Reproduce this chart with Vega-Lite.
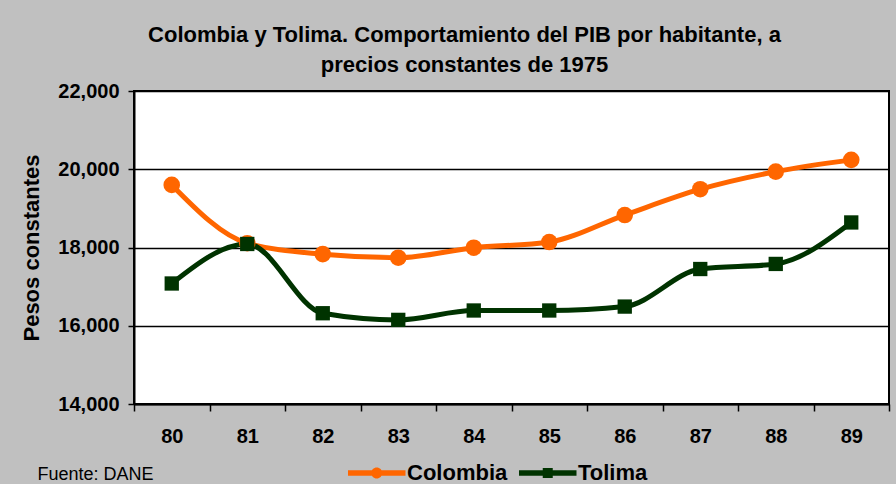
{
  "$schema": "https://vega.github.io/schema/vega-lite/v6.json",
  "width": 755,
  "height": 313,
  "autosize": "none",
  "padding": {"left": 134, "top": 91, "right": 7, "bottom": 80},
  "background": "#c0c0c0",
  "title": {
    "text": ["Colombia y Tolima. Comportamiento del PIB por habitante, a", "precios constantes de 1975"],
    "font": "Liberation Sans",
    "fontSize": 22,
    "fontWeight": "bold",
    "color": "black",
    "lineHeight": 30,
    "anchor": "middle",
    "dx": -47,
    "offset": 4
  },
  "data": {
    "values": [
      {"anio": 80, "serie": "Colombia", "pib": 19600},
      {"anio": 81, "serie": "Colombia", "pib": 18110},
      {"anio": 82, "serie": "Colombia", "pib": 17830},
      {"anio": 83, "serie": "Colombia", "pib": 17740},
      {"anio": 84, "serie": "Colombia", "pib": 17995},
      {"anio": 85, "serie": "Colombia", "pib": 18140},
      {"anio": 86, "serie": "Colombia", "pib": 18830},
      {"anio": 87, "serie": "Colombia", "pib": 19490},
      {"anio": 88, "serie": "Colombia", "pib": 19940},
      {"anio": 89, "serie": "Colombia", "pib": 20240},
      {"anio": 80, "serie": "Tolima", "pib": 17080},
      {"anio": 81, "serie": "Tolima", "pib": 18090},
      {"anio": 82, "serie": "Tolima", "pib": 16320},
      {"anio": 83, "serie": "Tolima", "pib": 16150},
      {"anio": 84, "serie": "Tolima", "pib": 16390},
      {"anio": 85, "serie": "Tolima", "pib": 16390},
      {"anio": 86, "serie": "Tolima", "pib": 16490},
      {"anio": 87, "serie": "Tolima", "pib": 17450},
      {"anio": 88, "serie": "Tolima", "pib": 17580},
      {"anio": 89, "serie": "Tolima", "pib": 18640}
    ]
  },
  "encoding": {
    "x": {
      "field": "anio",
      "type": "quantitative",
      "scale": {"domain": [79.5, 89.5], "nice": false, "zero": false},
      "axis": {
        "title": "Fuente: DANE",
        "values": [79.5, 80, 80.5, 81, 81.5, 82, 82.5, 83, 83.5, 84, 84.5, 85, 85.5, 86, 86.5, 87, 87.5, 88, 88.5, 89, 89.5],
        "labelExpr": "datum.value % 1 === 0 ? format(datum.value, 'd') : ''",
        "labelOverlap": false,
        "labelFlush": false,
        "grid": false,
        "tickSize": 7,
        "tickColor": "black",
        "tickWidth": 1.5,
        "tickOpacity": {"condition": {"test": "datum.value % 1 === 0", "value": 0}, "value": 1},
        "domainColor": "black",
        "domainWidth": 2,
        "labelFont": "Liberation Sans",
        "labelFontWeight": "bold",
        "labelFontSize": 20,
        "labelColor": "black",
        "labelPadding": 15,
        "titleFont": "Liberation Sans",
        "titleFontWeight": "normal",
        "titleFontSize": 18,
        "titleColor": "black",
        "titleX": -97,
        "titleY": 70,
        "titleAnchor": "start",
        "titleAlign": "left",
        "titleBaseline": "middle"
      }
    },
    "y": {
      "field": "pib",
      "type": "quantitative",
      "scale": {"domain": [14000, 22000], "nice": false, "zero": false},
      "axis": {
        "title": "Pesos constantes",
        "values": [14000, 16000, 18000, 20000, 22000],
        "format": ",d",
        "grid": true,
        "gridColor": "black",
        "gridWidth": 1.5,
        "gridOpacity": 1,
        "tickSize": 6,
        "tickColor": "black",
        "tickWidth": 1.5,
        "domainColor": "black",
        "domainWidth": 2,
        "labelFont": "Liberation Sans",
        "labelFontSize": 20,
        "labelFontWeight": "bold",
        "labelColor": "black",
        "labelPadding": 9,
        "titleFont": "Liberation Sans",
        "titleFontSize": 22,
        "titleFontWeight": "bold",
        "titleColor": "black",
        "titlePadding": 14
      }
    }
  },
  "layer": [
    {
      "transform": [{"filter": "datum.serie === 'Colombia'"}],
      "mark": {"type": "line", "color": "#FF6600", "strokeWidth": 5, "interpolate": "monotone"}
    },
    {
      "transform": [{"filter": "datum.serie === 'Tolima'"}],
      "mark": {"type": "line", "color": "#003300", "strokeWidth": 5, "interpolate": "monotone"}
    },
    {
      "transform": [{"filter": "datum.serie === 'Colombia'"}],
      "mark": {"type": "point", "shape": "circle", "filled": true, "opacity": 1, "strokeWidth": 0, "color": "#FF6600", "size": 275}
    },
    {
      "transform": [{"filter": "datum.serie === 'Tolima'"}],
      "mark": {"type": "point", "shape": "square", "filled": true, "opacity": 1, "strokeWidth": 0, "color": "#003300", "size": 205}
    },
    {
      "transform": [{"filter": "false"}],
      "mark": {"type": "point", "filled": true, "opacity": 1, "strokeWidth": 0},
      "encoding": {
        "color": {
          "field": "serie",
          "type": "nominal",
          "scale": {"domain": ["Colombia", "Tolima"], "range": ["#FF6600", "#003300"]},
          "legend": {
            "title": null,
            "orient": "none",
            "legendX": 208,
            "legendY": 371,
            "direction": "horizontal",
            "padding": 0,
            "symbolSize": 100,
            "labelOffset": 43,
            "labelFont": "Liberation Sans",
            "labelFontSize": 22,
            "labelFontWeight": "bold",
            "labelColor": "black",
            "columnPadding": 5,
            "symbolStrokeWidth": 0,
            "symbolOpacity": 1
          }
        },
        "shape": {
          "field": "serie",
          "type": "nominal",
          "scale": {
            "domain": ["Colombia", "Tolima"],
            "range": [
              "M-1,-0.57L10.5,-0.57L10.5,0.57L-1,0.57Z M3.65,0A1.1,1.1 0 1,1 5.85,0A1.1,1.1 0 1,1 3.65,0Z",
              "M-1,-0.57L10.5,-0.57L10.5,0.57L-1,0.57Z M3.75,-1L5.75,-1L5.75,1L3.75,1Z"
            ]
          },
          "legend": {
            "title": null,
            "orient": "none",
            "legendX": 208,
            "legendY": 371,
            "direction": "horizontal",
            "padding": 0,
            "symbolSize": 100,
            "labelOffset": 43,
            "labelFont": "Liberation Sans",
            "labelFontSize": 22,
            "labelFontWeight": "bold",
            "labelColor": "black",
            "columnPadding": 5,
            "symbolStrokeWidth": 0,
            "symbolOpacity": 1
          }
        }
      }
    }
  ],
  "config": {
    "view": {"fill": "white", "stroke": "black", "strokeWidth": 2}
  }
}
